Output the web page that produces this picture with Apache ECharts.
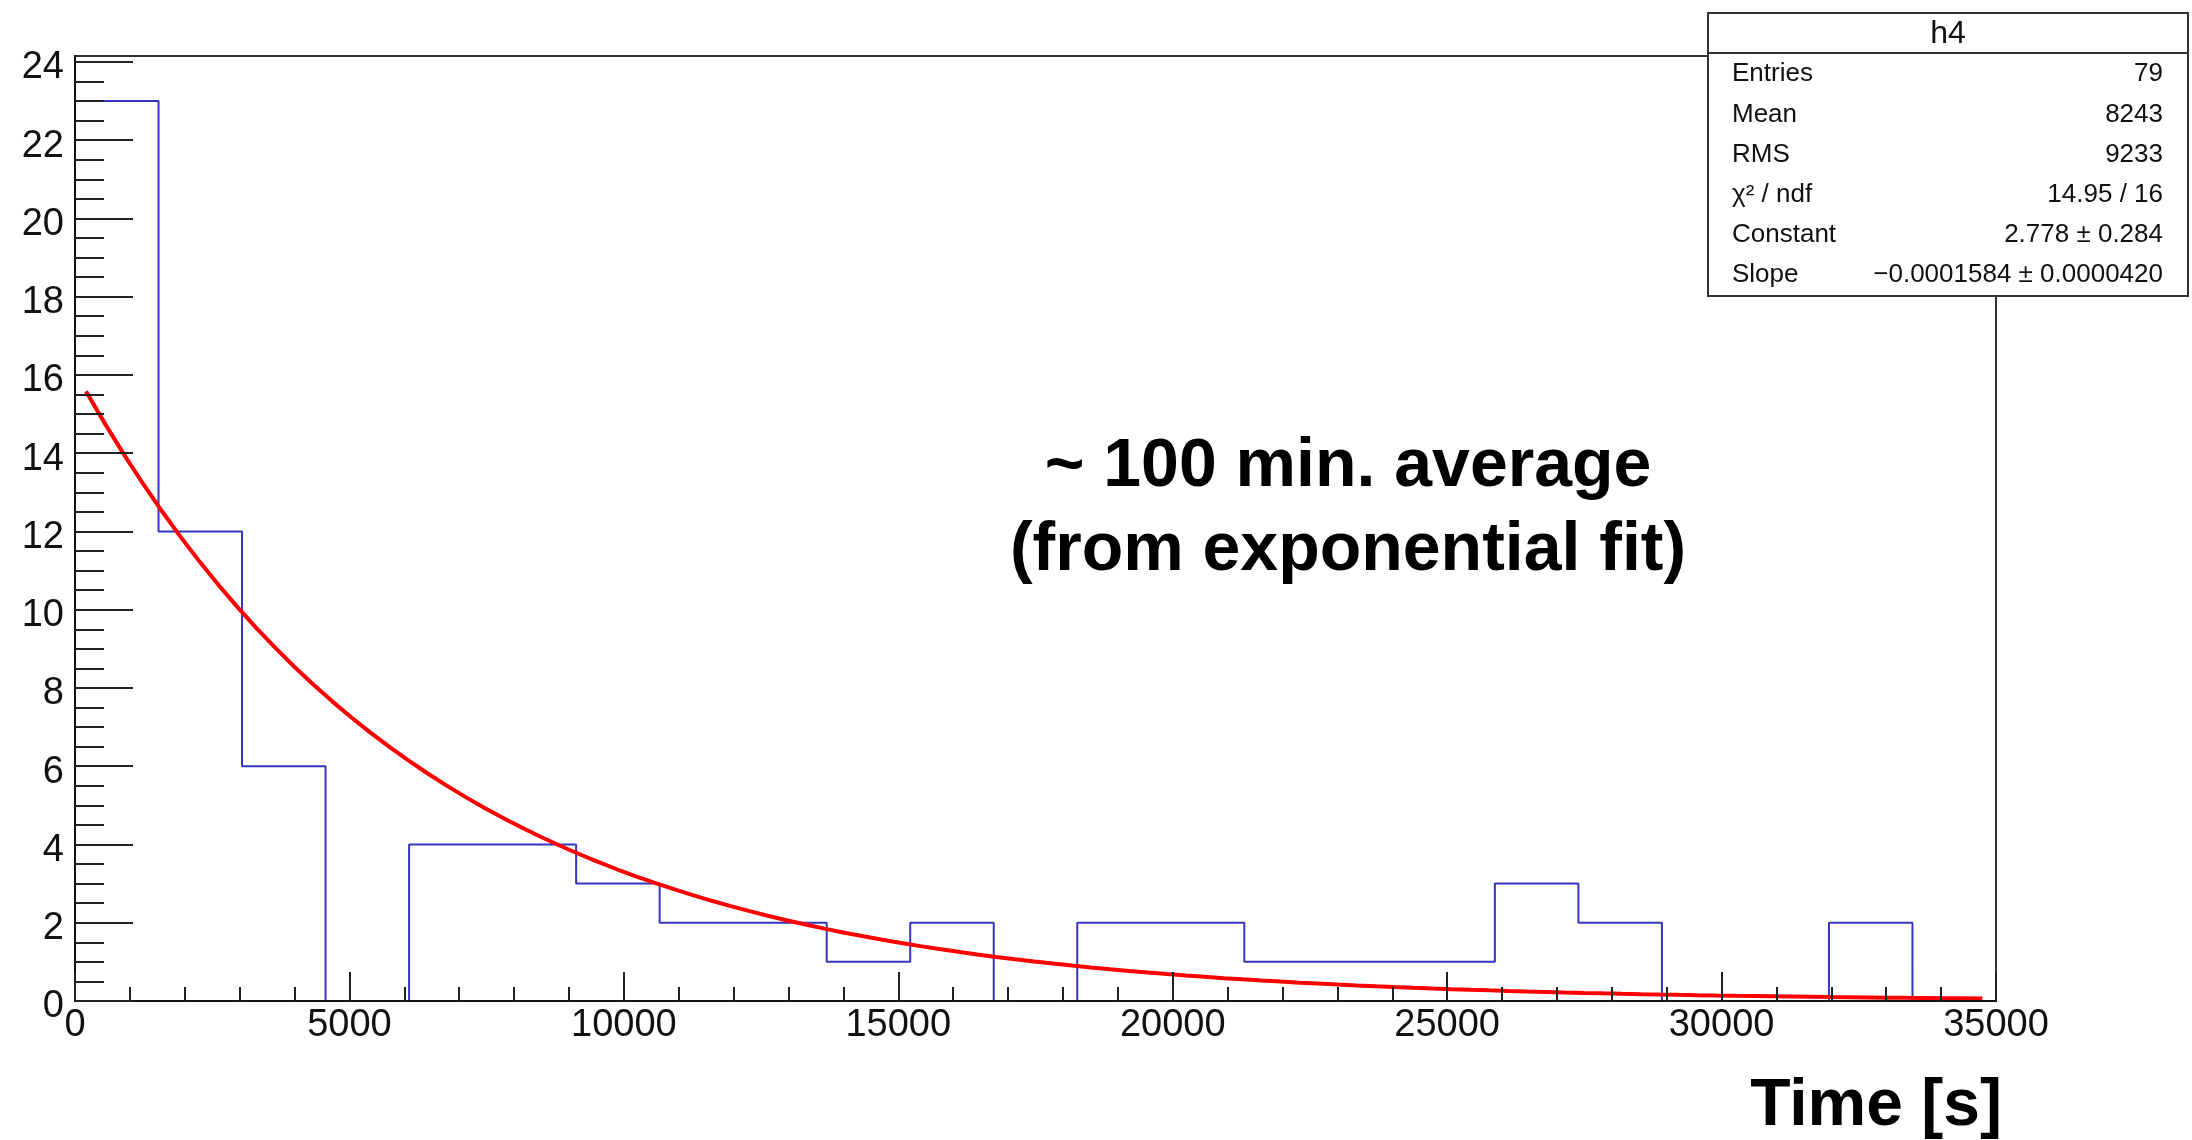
<!DOCTYPE html>
<html>
<head>
<meta charset="utf-8">
<script src="https://cdn.jsdelivr.net/npm/echarts@6/dist/echarts.min.js"></script>
<style>
  html, body { margin: 0; padding: 0; background: #ffffff; }
  #main { width: 2192px; height: 1140px; }
</style>
</head>
<body>
<div id="main"></div>
<script>
// Histogram h4: waiting times, 23 equal bins over [0, 35000] s
const histMin = 0;
const histMax = 35000;
const binCounts = [23, 12, 6, 0, 4, 4, 3, 2, 2, 1, 2, 0, 2, 2, 1, 1, 1, 3, 2, 0, 0, 2, 0];

// Exponential fit: f(t) = exp(Constant + Slope * t)
const fitConstant = 2.778;
const fitSlope = -0.0001584;
const fitRange = [200, 34750];
const fitSamples = 100;

// Axis ticks
const xTicks = [0, 5000, 10000, 15000, 20000, 25000, 30000, 35000];
const yMajorTicks = [0, 2, 4, 6, 8, 10, 12, 14, 16, 18, 20, 22, 24];
const yMinorTicks = [0.5, 1, 1.5, 2.5, 3, 3.5, 4.5, 5, 5.5, 6.5, 7, 7.5, 8.5, 9, 9.5,
  10.5, 11, 11.5, 12.5, 13, 13.5, 14.5, 15, 15.5, 16.5, 17, 17.5, 18.5, 19, 19.5,
  20.5, 21, 21.5, 22.5, 23, 23.5];
const yMax = 24.15;

// Statistics panel
const statTitle = 'h4';
const statLabels = ['Entries', 'Mean', 'RMS', 'χ² / ndf', 'Constant', 'Slope'];
const statValues = ['79', '8243', '9233', '14.95 / 16', '2.778 ± 0.284', '\u22120.0001584 ± 0.0000420'];

// Annotation texts
const noteLines = ['~ 100 min. average', '(from exponential fit)'];
const xAxisTitle = 'Time [s]';

// Histogram outline as a step line through the bin edges
const binWidth = (histMax - histMin) / binCounts.length;
const outline = [[histMin, 0]];
binCounts.forEach((c, i) => outline.push([histMin + i * binWidth, c]));
outline.push([histMax, 0]);

// Fit function evaluated across its range
const fitData = [];
for (let i = 0; i <= fitSamples; i++) {
  const t = fitRange[0] + (fitRange[1] - fitRange[0]) * i / fitSamples;
  fitData.push([t, Math.exp(fitConstant + fitSlope * t)]);
}

const FONT = '"Liberation Sans", Arial, Helvetica, sans-serif';

// Stats box geometry
const box = { x: 1708, y: 13, w: 480, h: 283, header: 40 };
const rowY = [74, 115, 155, 195, 235, 275];

const statGraphics = [
  { type: 'rect', shape: { x: box.x, y: box.y, width: box.w, height: box.h },
    style: { fill: '#fff', stroke: '#333', lineWidth: 2 }, z: 100 },
  { type: 'line', shape: { x1: box.x, y1: box.y + box.header, x2: box.x + box.w, y2: box.y + box.header },
    style: { stroke: '#333', lineWidth: 2 }, z: 101 },
  { type: 'text', x: box.x + box.w / 2, y: box.y + box.header / 2 + 1,
    style: { text: statTitle, font: '32px ' + FONT, fill: '#111', align: 'center', verticalAlign: 'middle' }, z: 101 }
];
statLabels.forEach((lab, i) => {
  statGraphics.push({ type: 'text', x: box.x + 24, y: rowY[i],
    style: { text: lab, font: '26px ' + FONT, fill: '#111', align: 'left', verticalAlign: 'middle' }, z: 101 });
  statGraphics.push({ type: 'text', x: box.x + box.w - 25, y: rowY[i],
    style: { text: statValues[i], font: '26px ' + FONT, fill: '#111', align: 'right', verticalAlign: 'middle' }, z: 101 });
});

const chart = echarts.init(document.getElementById('main'), null, { renderer: 'canvas' });

chart.setOption({
  animation: false,
  backgroundColor: '#ffffff',
  grid: {
    left: 75, right: 196, top: 56, bottom: 139,
    show: true, borderColor: '#333', borderWidth: 2, backgroundColor: 'transparent'
  },
  xAxis: {
    type: 'value', min: histMin, max: histMax, interval: 5000,
    axisLine: { show: true, onZero: false, lineStyle: { color: '#111', width: 2 } },
    axisTick: { show: true, inside: true, length: 29, lineStyle: { color: '#222', width: 2 } },
    minorTick: { show: true, splitNumber: 5, length: 14, lineStyle: { color: '#222', width: 2 } },
    axisLabel: {
      customValues: xTicks, fontSize: 38, fontFamily: FONT, color: '#111', margin: 6,
      formatter: v => String(v)
    },
    splitLine: { show: false },
    z: 5
  },
  yAxis: [
    {
      type: 'value', min: 0, max: yMax, position: 'left',
      axisLine: { show: true, onZero: false, lineStyle: { color: '#111', width: 2 } },
      axisTick: { show: true, inside: true, length: 58, customValues: yMajorTicks, lineStyle: { color: '#222', width: 2 } },
      axisLabel: {
        customValues: yMajorTicks, fontSize: 38, fontFamily: FONT, color: '#111', margin: 11,
        verticalAlign: 'top', lineHeight: 12, formatter: v => String(v)
      },
      splitLine: { show: false },
      z: 5
    },
    {
      type: 'value', min: 0, max: yMax, position: 'left',
      axisLine: { show: false },
      axisTick: { show: true, inside: true, length: 29, customValues: yMinorTicks, lineStyle: { color: '#222', width: 2 } },
      axisLabel: { show: false },
      splitLine: { show: false },
      z: 5
    }
  ],
  series: [
    {
      name: 'h4', type: 'line', step: 'end', data: outline,
      symbol: 'none', lineStyle: { color: '#3535c0', width: 2 }, z: 2
    },
    {
      name: 'expo', type: 'line', data: fitData,
      symbol: 'none', lineStyle: { color: '#ff0000', width: 4 }, z: 3
    }
  ],
  graphic: [
    { type: 'text', x: 1348, y: 467,
      style: { text: noteLines[0], font: 'bold 68px ' + FONT, fill: '#000', align: 'center', verticalAlign: 'middle' }, z: 50 },
    { type: 'text', x: 1348, y: 551,
      style: { text: noteLines[1], font: 'bold 68px ' + FONT, fill: '#000', align: 'center', verticalAlign: 'middle' }, z: 50 },
    { type: 'text', x: 2002, y: 1107,
      style: { text: xAxisTitle, font: 'bold 66px ' + FONT, fill: '#000', align: 'right', verticalAlign: 'middle' }, z: 50 }
  ].concat(statGraphics)
});
</script>
</body>
</html>
